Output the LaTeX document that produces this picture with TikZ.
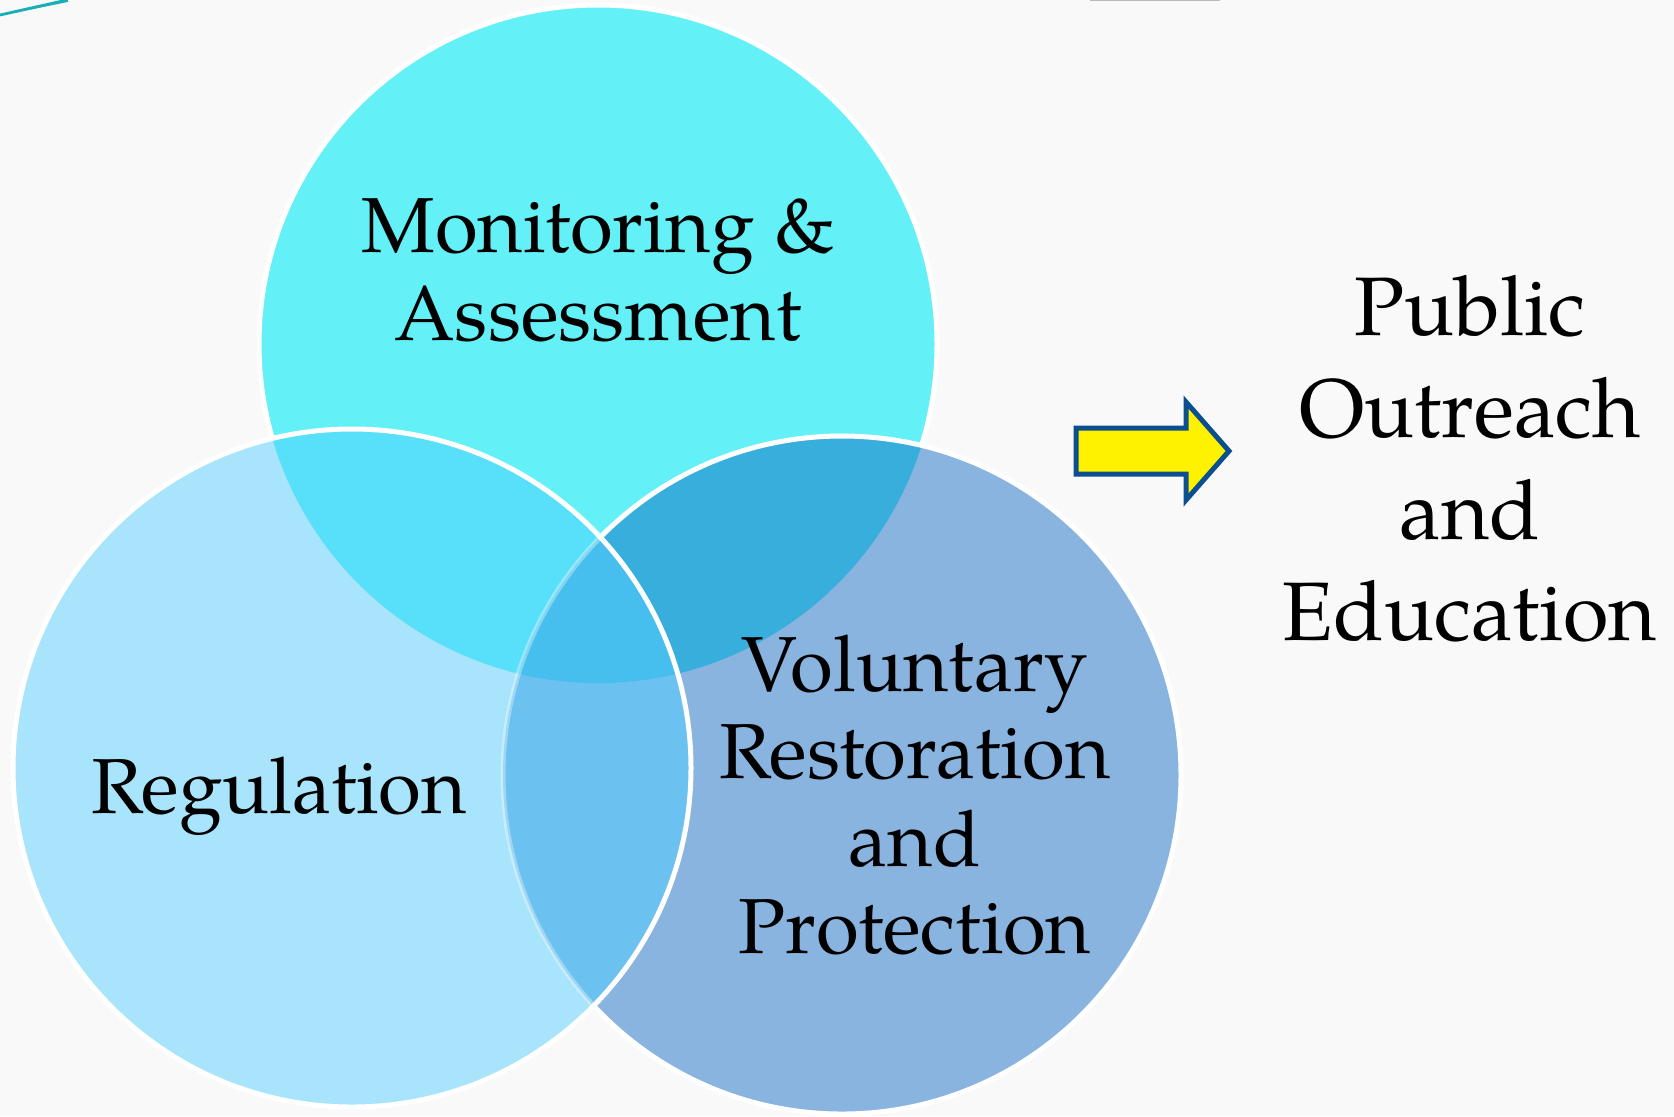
\documentclass[tikz,border=0pt]{standalone}
\usepackage{fontspec}
\setmainfont{TeX Gyre Pagella}
\definecolor{bg}{HTML}{F9F9F9}
\definecolor{cT}{HTML}{63F0F7}
\definecolor{cL}{HTML}{A8E4FB}
\definecolor{cR}{HTML}{89B4DF}
\definecolor{cTL}{HTML}{58DFF9}
\definecolor{cTR}{HTML}{38AEDD}
\definecolor{cLR}{HTML}{6BC1EF}
\definecolor{cC}{HTML}{46BEEE}
\definecolor{arrowblue}{HTML}{0B4F8E}
\definecolor{swoosh}{HTML}{1AAFB8}
\begin{document}
\begin{tikzpicture}[x=0.5pt,y=-0.5pt,
  lbl/.style={font=\fontsize{39}{43.8}\selectfont, align=center, inner sep=0pt, text=black},
  rim/.style={draw=white, line width=2.5pt},
  faintrim/.style={draw=white, draw opacity=0.35, line width=2.5pt},
  blockarrow/.style={fill=yellow, draw=arrowblue, line width=2.5pt, line join=miter}]
\path[use as bounding box, fill=bg] (0,0) rectangle (1674,1116);
% decorations at the top edge
\draw[swoosh, line width=1.4pt] (0,15) -- (67,0);
\draw[swoosh, line width=0.9pt] (14,12) -- (68,1);
\draw[gray!55, line width=0.7pt] (1090,0.4) -- (1220,0.4);
% circle centres
\coordinate (ct) at (598,344);
\coordinate (cl) at (352,768);
\coordinate (cr) at (842,775);
% top circle
\fill[cT] (ct) circle[radius=339];
\draw[rim] (ct) circle[radius=339];
% right circle
\fill[cR] (cr) circle[radius=339];
\begin{scope}
  \clip (ct) circle[radius=339];
  \fill[cTR] (cr) circle[radius=339];
\end{scope}
\draw[rim] (cr) circle[radius=339];
% left circle
\fill[cL] (cl) circle[radius=339];
\begin{scope}
  \clip (ct) circle[radius=339];
  \fill[cTL] (cl) circle[radius=339];
\end{scope}
\begin{scope}
  \clip (cr) circle[radius=339];
  \fill[cLR] (cl) circle[radius=339];
\end{scope}
\begin{scope}
  \clip (ct) circle[radius=339];
  \clip (cr) circle[radius=339];
  \fill[cC] (cl) circle[radius=339];
\end{scope}
\begin{scope}
  \clip (cl) circle[radius=339];
  \draw[faintrim] (cr) circle[radius=339];
\end{scope}
\draw[rim] (cl) circle[radius=339];
% arrow
\coordinate (a1) at (1076,428);
\coordinate (a2) at (1186,428);
\coordinate (a3) at (1186,402);
\coordinate (a4) at (1229,451);
\coordinate (a5) at (1186,500);
\coordinate (a6) at (1186,474);
\coordinate (a7) at (1076,474);
\draw[blockarrow] (a1) -- (a2) -- (a3) -- (a4) -- (a5) -- (a6) -- (a7) -- cycle;
% labels
\node[lbl] (mon) at (598,270) {Monitoring \&\\Assessment};
\node[lbl] (reg) at (279,796) {Regulation};
\node[lbl] (vol) at (915,795) {Voluntary\\Restoration\\and\\Protection};
\node[lbl, font=\fontsize{41.5}{50.8}\selectfont] (pub) at (1470,459) {Public\\Outreach\\and\\Education};
\end{tikzpicture}
\end{document}
